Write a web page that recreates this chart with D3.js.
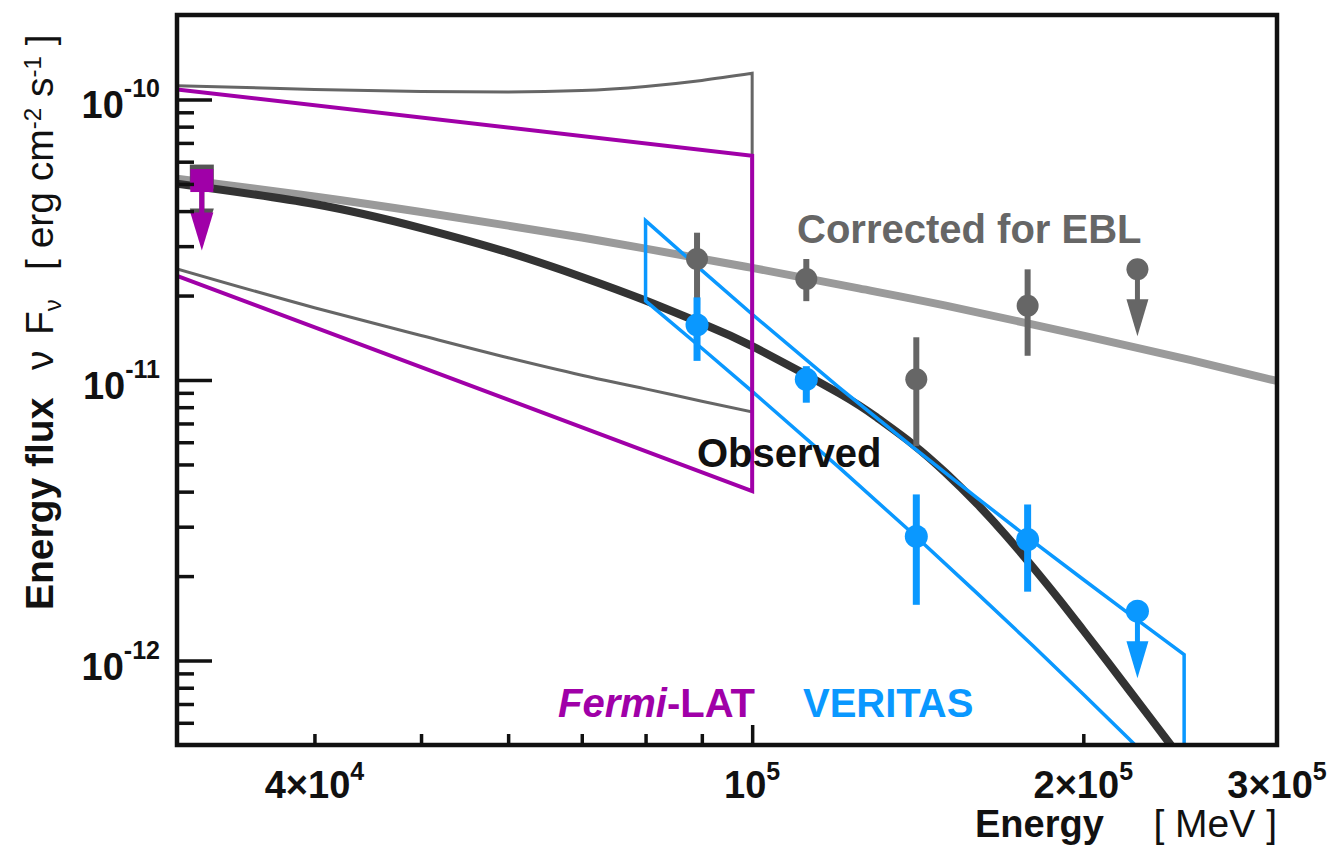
<!DOCTYPE html>
<html>
<head>
<meta charset="utf-8">
<script src="https://cdn.jsdelivr.net/npm/d3@7/dist/d3.min.js"></script>
<style>
  html, body { margin: 0; padding: 0; background: #fff; }
  svg { display: block; font-family: "Liberation Sans", Arial, Helvetica, sans-serif; }
</style>
</head>
<body>
<svg id="chart" width="1334" height="852"></svg>
<script>
// ---- Axis ranges and tick labels ----
const xDomain = [3e4, 3e5];            // MeV
const yDomain = [5e-13, 2e-10];        // erg cm^-2 s^-1
const xMinorTicks = [4e4, 5e4, 6e4, 7e4, 8e4, 9e4, 2e5];
const xMajorTicks = [1e5];
const xLabelValues = [4e4, 1e5, 2e5, 3e5];
const xLabelMantissa = ["4\u00d710", "10", "2\u00d710", "3\u00d710"];
const xLabelExponent = ["4", "5", "5", "5"];
const yMajorTicks = [1e-12, 1e-11, 1e-10];
const yLabelExponent = ["-12", "-11", "-10"];

// ---- Model curves ----
// Observed (EBL-absorbed) spectrum
const observedEnergy = [3e4, 4e4, 5e4, 6e4, 7e4, 8e4, 9e4, 1e5, 1.2e5, 1.3e5, 1.4e5, 1.5e5, 1.6e5,
                        1.7e5, 1.8e5, 1.9e5, 2e5, 2.1e5, 2.2e5, 2.3e5, 2.4e5, 2.5e5];
const observedFlux   = [5.01e-11, 4.24e-11, 3.48e-11, 2.85e-11, 2.33e-11, 1.92e-11, 1.59e-11, 1.32e-11,
                        8.96e-12, 7.32e-12, 5.90e-12, 4.66e-12, 3.63e-12, 2.80e-12, 2.15e-12, 1.657e-12,
                        1.281e-12, 1.001e-12, 7.87e-13, 6.26e-13, 5.02e-13, 4.06e-13];
// Intrinsic spectrum, corrected for EBL absorption
const correctedEnergy = [3e4, 4e4, 5e4, 6e4, 7e4, 8e4, 1e5, 1.25e5, 1.5e5, 2e5, 2.5e5, 3e5];
const correctedFlux   = [5.22e-11, 4.51e-11, 3.97e-11, 3.55e-11, 3.22e-11, 2.94e-11, 2.51e-11,
                         2.12e-11, 1.84e-11, 1.44e-11, 1.18e-11, 9.92e-12];

// ---- Fermi-LAT butterflies ----
const latCurvedEnergy = [3e4, 4e4, 5e4, 6e4, 7e4, 8e4, 9e4, 1e5];
const latCurvedUpper  = [1.12e-10, 1.085e-10, 1.068e-10, 1.064e-10, 1.076e-10, 1.113e-10, 1.169e-10, 1.239e-10];
const latCurvedLower  = [2.49e-11, 1.81e-11, 1.44e-11, 1.20e-11, 1.04e-11, 9.3e-12, 8.4e-12, 7.7e-12];
const latPowerEnergy  = [3e4, 1e5];
const latPowerUpper   = [1.086e-10, 6.3e-11];
const latPowerLower   = [2.35e-11, 4.02e-12];
// Fermi-LAT upper limit (observed, and EBL-corrected behind it)
const latLimitEnergy = 3.16e4;
const latLimitFlux = 5.14e-11;
const latLimitCorrectedFlux = 5.31e-11;

// ---- VERITAS butterfly ----
const vtsBowEnergy = [8e4, 9e4, 1e5, 1.2e5, 1.4e5, 1.6e5, 1.8e5, 2e5, 2.2e5, 2.47e5];
const vtsBowUpper  = [3.70e-11, 2.46e-11, 1.716e-11, 9.40e-12, 5.76e-12, 3.81e-12, 2.66e-12, 1.945e-12, 1.47e-12, 1.05e-12];
const vtsBowLower  = [1.915e-11, 1.298e-11, 9.11e-12, 4.87e-12, 2.83e-12, 1.743e-12, 1.129e-12, 7.59e-13, 5.26e-13, 3.36e-13];

// ---- VERITAS spectral points ----
const binEnergy = [8.91e4, 1.12e5, 1.41e5, 1.78e5];
const vtsFlux   = [1.572e-11, 1.006e-11, 2.77e-12, 2.70e-12];
const vtsLow    = [1.17e-11, 8.3e-12, 1.58e-12, 1.76e-12];
const vtsHigh   = [1.97e-11, 1.12e-11, 3.91e-12, 3.60e-12];
const ebcFlux   = [2.70e-11, 2.29e-11, 1.006e-11, 1.84e-11];
const ebcLow    = [1.84e-11, 1.91e-11, 5.81e-12, 1.22e-11];
const ebcHigh   = [3.35e-11, 2.70e-11, 1.42e-11, 2.48e-11];
const limitEnergy = 2.24e5;
const vtsLimitFlux = 1.50e-12;
const ebcLimitFlux = 2.48e-11;

// ---- Colours ----
const MAGENTA = "#a000a8";
const BLUE = "#0a98ff";
const DARKGRAY = "#666666";

const svg = d3.select("#chart");
const plot = { left: 177, right: 1277, top: 15, bottom: 745 };

const x = d3.scaleLog().domain(xDomain).range([plot.left, plot.right]);
const y = d3.scaleLog().domain(yDomain).range([plot.bottom, plot.top]);

svg.append("defs").append("clipPath").attr("id", "plotClip")
  .append("rect")
  .attr("x", plot.left).attr("y", plot.top)
  .attr("width", plot.right - plot.left).attr("height", plot.bottom - plot.top);

const g = svg.append("g").attr("clip-path", "url(#plotClip)");

const zip = (es, fs) => es.map((e, i) => [e, fs[i]]);
const smooth = d3.line().x(d => x(d[0])).y(d => y(d[1])).curve(d3.curveMonotoneX);
const natural = d3.line().x(d => x(d[0])).y(d => y(d[1])).curve(d3.curveNatural);
const straight = d3.line().x(d => x(d[0])).y(d => y(d[1]));

// Thick model curves
g.append("path").attr("d", natural(zip(correctedEnergy, correctedFlux)))
  .attr("fill", "none").attr("stroke", "#9a9a9a").attr("stroke-width", 8);
g.append("path").attr("d", natural(zip(observedEnergy, observedFlux)))
  .attr("fill", "none").attr("stroke", "#333333").attr("stroke-width", 8);

// Fermi-LAT curved butterfly (thin gray)
{
  const up = smooth(zip(latCurvedEnergy, latCurvedUpper));
  const lowPts = zip(latCurvedEnergy, latCurvedLower).reverse();
  const lowPath = d3.line().x(d => x(d[0])).y(d => y(d[1])).curve(d3.curveMonotoneX)(lowPts);
  g.append("path").attr("d", up + "L" + lowPath.slice(1))
    .attr("fill", "none").attr("stroke", DARKGRAY).attr("stroke-width", 3);
}

// VERITAS butterfly
{
  const pts = zip(vtsBowEnergy, vtsBowUpper).concat(zip(vtsBowEnergy, vtsBowLower).reverse());
  g.append("path").attr("d", straight(pts) + "Z")
    .attr("fill", "none").attr("stroke", BLUE).attr("stroke-width", 3.5)
    .attr("stroke-linejoin", "miter");
}

// Fermi-LAT power-law butterfly
{
  const pts = zip(latPowerEnergy, latPowerUpper).concat(zip(latPowerEnergy, latPowerLower).reverse());
  g.append("path").attr("d", straight(pts))
    .attr("fill", "none").attr("stroke", MAGENTA).attr("stroke-width", 4);
}

// Upper-limit arrow below a marker
function arrow(sel, cx, cy, color, stemLen, headLen, headW) {
  sel.append("line").attr("x1", cx).attr("x2", cx).attr("y1", cy).attr("y2", cy + stemLen + 2)
    .attr("stroke", color).attr("stroke-width", 5);
  sel.append("path")
    .attr("d", `M${cx - headW / 2},${cy + stemLen} L${cx + headW / 2},${cy + stemLen} L${cx},${cy + stemLen + headLen} Z`)
    .attr("fill", color);
}

// Fermi-LAT upper limits (EBL-corrected behind, observed in front)
{
  const cx = x(latLimitEnergy);
  const cyC = y(latLimitCorrectedFlux);
  arrow(g, cx, cyC, "#555", 32, 38, 24);
  g.append("rect").attr("x", cx - 12).attr("y", cyC - 12).attr("width", 24).attr("height", 24).attr("fill", "#555");
  const cy = y(latLimitFlux);
  arrow(g, cx, cy, MAGENTA, 32, 38, 23);
  g.append("rect").attr("x", cx - 11.5).attr("y", cy - 11.5).attr("width", 23).attr("height", 23).attr("fill", MAGENTA);
}

// Spectral points with error bars
function points(es, fs, lo, hi, color, w, r) {
  es.forEach((e, i) => {
    g.append("line").attr("x1", x(e)).attr("x2", x(e)).attr("y1", y(lo[i])).attr("y2", y(hi[i]))
      .attr("stroke", color).attr("stroke-width", w);
    g.append("circle").attr("cx", x(e)).attr("cy", y(fs[i])).attr("r", r).attr("fill", color);
  });
}
points(binEnergy, ebcFlux, ebcLow, ebcHigh, DARKGRAY, 6, 11);
points(binEnergy, vtsFlux, vtsLow, vtsHigh, BLUE, 7, 11.5);

// Upper limits in the last bin
arrow(g, x(limitEnergy), y(ebcLimitFlux), DARKGRAY, 30, 37, 22);
g.append("circle").attr("cx", x(limitEnergy)).attr("cy", y(ebcLimitFlux)).attr("r", 11).attr("fill", DARKGRAY);
arrow(g, x(limitEnergy), y(vtsLimitFlux), BLUE, 30, 37, 22);
g.append("circle").attr("cx", x(limitEnergy)).attr("cy", y(vtsLimitFlux)).attr("r", 11.5).attr("fill", BLUE);

// ---- Axes (ticks point into the frame) ----
const tickStroke = sel => sel.selectAll("line").attr("stroke", "#111").attr("stroke-width", 3.5);
const yMinor = [];
[-13, -12, -11].forEach(p => { for (let m = 2; m <= 9; m++) { const v = m * Math.pow(10, p); if (v > yDomain[0] && v < yDomain[1]) yMinor.push(v); } });

svg.append("g").attr("transform", `translate(${plot.left},0)`)
  .call(d3.axisLeft(y).tickValues(yMinor).tickSize(-17).tickFormat(""))
  .call(s => s.select(".domain").remove()).call(tickStroke);
svg.append("g").attr("transform", `translate(${plot.left},0)`)
  .call(d3.axisLeft(y).tickValues(yMajorTicks).tickSize(-35).tickFormat(""))
  .call(s => s.select(".domain").remove()).call(tickStroke);
svg.append("g").attr("transform", `translate(0,${plot.bottom})`)
  .call(d3.axisBottom(x).tickValues(xMinorTicks).tickSize(-11).tickFormat(""))
  .call(s => s.select(".domain").remove()).call(tickStroke);
svg.append("g").attr("transform", `translate(0,${plot.bottom})`)
  .call(d3.axisBottom(x).tickValues(xMajorTicks).tickSize(-20).tickFormat(""))
  .call(s => s.select(".domain").remove()).call(tickStroke);

// Frame
svg.append("rect")
  .attr("x", plot.left).attr("y", plot.top)
  .attr("width", plot.right - plot.left).attr("height", plot.bottom - plot.top)
  .attr("fill", "none").attr("stroke", "#111").attr("stroke-width", 4.5);

// Tick labels
yMajorTicks.forEach((v, i) => {
  const t = svg.append("text").attr("x", 160).attr("y", y(v) + 19)
    .attr("text-anchor", "end").attr("font-weight", "bold").attr("fill", "#111");
  t.append("tspan").attr("font-size", 38).text("10");
  t.append("tspan").attr("font-size", 25).attr("dy", -21).text(yLabelExponent[i]);
});
xLabelValues.forEach((v, i) => {
  const t = svg.append("text").attr("x", x(v)).attr("y", 798)
    .attr("text-anchor", "middle").attr("font-weight", "bold").attr("fill", "#111");
  t.append("tspan").attr("font-size", 38).text(xLabelMantissa[i]);
  t.append("tspan").attr("font-size", 25).attr("dy", -18).text(xLabelExponent[i]);
});

// Axis titles
svg.append("text").attr("x", 975).attr("y", 837).attr("font-size", 38).attr("font-weight", "bold")
  .attr("fill", "#111").text("Energy");
svg.append("text").attr("x", 1277).attr("y", 837).attr("font-size", 39).attr("text-anchor", "end")
  .attr("fill", "#111").text("[ MeV ]");

{
  const t = svg.append("text").attr("transform", "translate(53,610) rotate(-90)").attr("fill", "#111").attr("font-size", 39);
  t.append("tspan").attr("x", 0).attr("font-weight", "bold").text("Energy flux");
  t.append("tspan").attr("x", 240).text("\u03bd");
  t.append("tspan").attr("x", 275).text("F");
  t.append("tspan").attr("font-size", 24).attr("dy", 8).text("\u03bd");
  t.append("tspan").attr("x", 340).attr("dy", -8).text("[ erg cm");
  t.append("tspan").attr("font-size", 24).attr("dy", -12).text("-2");
  t.append("tspan").attr("dy", 12).text(" s");
  t.append("tspan").attr("font-size", 24).attr("dy", -12).text("-1");
  t.append("tspan").attr("dy", 12).text(" ]");
}

// Series labels
svg.append("text").attr("x", 797).attr("y", 243).attr("font-size", 40).attr("font-weight", "bold")
  .attr("fill", DARKGRAY).text("Corrected for EBL");
svg.append("text").attr("x", 697).attr("y", 467).attr("font-size", 40).attr("font-weight", "bold")
  .attr("fill", "#111").text("Observed");
{
  const t = svg.append("text").attr("x", 558).attr("y", 717).attr("font-size", 40).attr("font-weight", "bold").attr("fill", MAGENTA);
  t.append("tspan").attr("font-style", "italic").text("Fermi");
  t.append("tspan").text("-LAT");
}
svg.append("text").attr("x", 803).attr("y", 717).attr("font-size", 40).attr("font-weight", "bold")
  .attr("fill", BLUE).text("VERITAS");
</script>
</body>
</html>
